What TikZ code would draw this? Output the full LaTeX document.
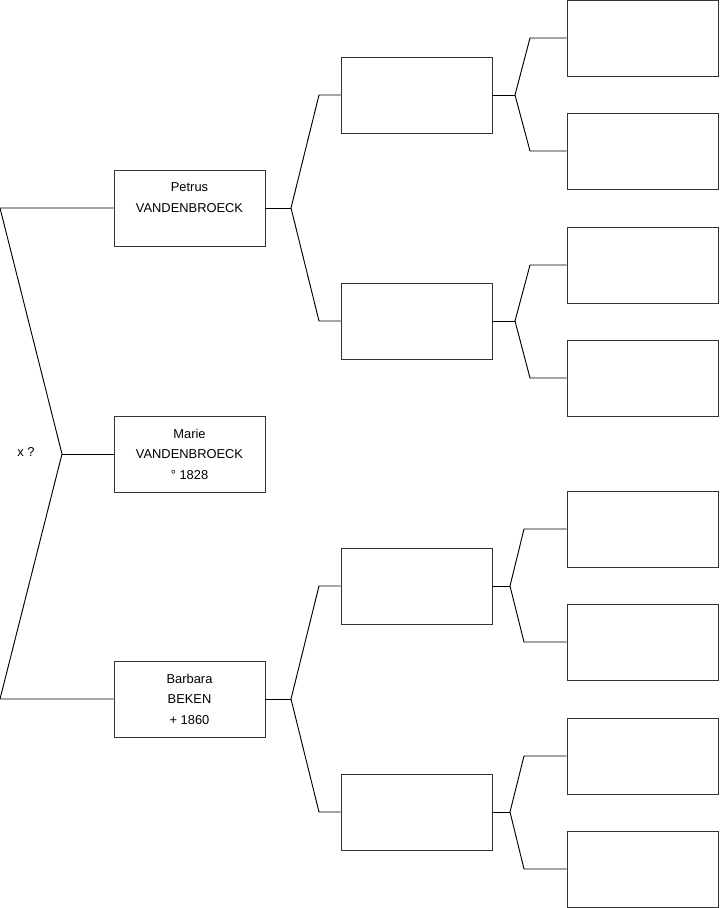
\documentclass[tikz,border=0pt]{standalone}
\usepackage{fontspec}
\setmainfont{Liberation Sans}
\usepackage{tikz}
\usetikzlibrary{positioning}
\tikzset{
  person/.style={draw=black!80, line width=0.8pt, minimum width=4.53cm, minimum height=2.28cm,
                 inner sep=0pt, align=center, font=\fontsize{11}{17.5}\selectfont},
  link/.style={black, line width=0.8pt},
}

\begin{document}
\begin{tikzpicture}[x=0.03cm, y=-0.03cm]
  \useasboundingbox (0,0) rectangle (719,908);

  % ── Generation 1 ──
  \node[person] (petrus)  at (189.5,208) {Petrus\\VANDENBROECK\\\mbox{}};
  \node[person] (marie)   at (189.5,454) {Marie\\VANDENBROECK\\° 1828};
  \node[person] (barbara) at (189.5,699) {Barbara\\BEKEN\\+ 1860};
  \node[font=\fontsize{11}{13}\selectfont] (union) at (26,452) {x ?};

  % ── Generation 2 ──
  \node[person] (pf) at (416.5,95)  {};
  \node[person] (pm) at (416.5,321) {};
  \node[person] (bf) at (416.5,586) {};
  \node[person] (bm) at (416.5,812) {};

  % ── Generation 3 ──
  \node[person] (pff) at (642.5,38)  {};
  \node[person] (pfm) at (642.5,151) {};
  \node[person] (pmf) at (642.5,265) {};
  \node[person] (pmm) at (642.5,378) {};
  \node[person] (bff) at (642.5,529) {};
  \node[person] (bfm) at (642.5,642) {};
  \node[person] (bmf) at (642.5,756) {};
  \node[person] (bmm) at (642.5,869) {};

  % ── Junctions ──
  \coordinate (mj)  at (62,454);
  \coordinate (pj)  at (291,208);
  \coordinate (bj)  at (291,699);
  \coordinate (pfj) at (515,95);
  \coordinate (pmj) at (515,321);
  \coordinate (bfj) at (510,586);
  \coordinate (bmj) at (510,812);

  % ── Parents of Marie ──
  \draw[link] (petrus.west) -- (0,208) -- (mj) -- (0,699) -- (barbara.west);
  \draw[link] (marie.west) -- (mj);

  % ── Parents of Petrus and Barbara ──
  \draw[link] (petrus.east) -- (pj);
  \draw[link] (pf.west) -- (319,95) -- (pj) -- (319,321) -- (pm.west);
  \draw[link] (barbara.east) -- (bj);
  \draw[link] (bf.west) -- (319,586) -- (bj) -- (319,812) -- (bm.west);

  % ── Great-grandparents ──
  \draw[link] (pf.east) -- (pfj);
  \draw[link] (pff.west) -- (530,38) -- (pfj) -- (530,151) -- (pfm.west);
  \draw[link] (pm.east) -- (pmj);
  \draw[link] (pmf.west) -- (530,265) -- (pmj) -- (530,378) -- (pmm.west);
  \draw[link] (bf.east) -- (bfj);
  \draw[link] (bff.west) -- (524,529) -- (bfj) -- (524,642) -- (bfm.west);
  \draw[link] (bm.east) -- (bmj);
  \draw[link] (bmf.west) -- (524,756) -- (bmj) -- (524,869) -- (bmm.west);
\end{tikzpicture}
\end{document}
